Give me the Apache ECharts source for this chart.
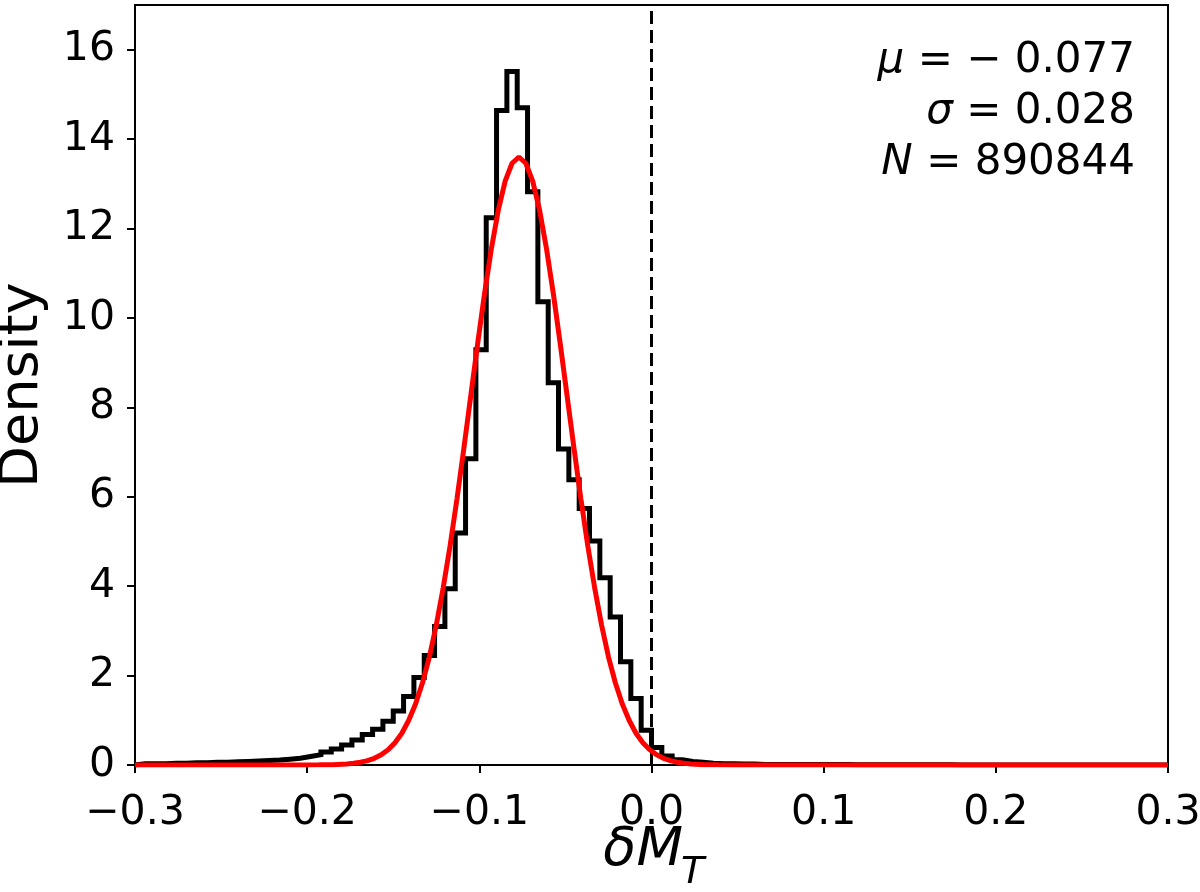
<!DOCTYPE html>
<html>
<head>
<meta charset="utf-8">
<script src="https://cdn.jsdelivr.net/npm/echarts@6/dist/echarts.min.js"></script>
<style>
html, body { margin: 0; padding: 0; background: #fff; }
#chart { width: 1200px; height: 892px; }
</style>
</head>
<body>
<div id="chart"></div>
<script>
// histogram: 100 bins of width 0.006 from -0.3 to 0.3 (density)
var binStart = -0.3;
var binWidth = 0.006;
var density = [
    0.03, 0.03, 0.03, 0.04, 0.04, 0.05, 0.05, 0.06, 0.06, 0.07,
    0.08, 0.09, 0.10, 0.11, 0.13, 0.15, 0.19, 0.23, 0.29, 0.36,
    0.45, 0.56, 0.68, 0.80, 0.98, 1.21, 1.53, 1.96, 2.45, 3.10,
    3.94, 5.19, 6.85, 9.29, 12.24, 14.64, 15.51, 14.70, 12.82, 10.36,
    8.55, 7.07, 6.38, 5.74, 5.01, 4.19, 3.31, 2.31, 1.49, 0.78,
    0.39, 0.20, 0.12, 0.08, 0.06, 0.04, 0.03, 0.03, 0.02, 0.02,
    0.01, 0.01, 0.01, 0.01, 0.01, 0.01, 0.01, 0.01, 0.01, 0.005,
    0.005, 0.005, 0.005, 0.005, 0.005, 0.005, 0.005, 0.005, 0.005, 0,
    0, 0, 0, 0, 0, 0, 0, 0, 0, 0,
    0, 0, 0, 0, 0, 0, 0, 0, 0, 0
];

// red fitted curve
var fitX = [-0.3, -0.201, -0.193, -0.185, -0.177, -0.173, -0.169, -0.165, -0.161, -0.157,
    -0.153, -0.149, -0.145, -0.141, -0.137, -0.133, -0.129, -0.125, -0.121, -0.117,
    -0.113, -0.109, -0.105, -0.101, -0.097, -0.093, -0.089, -0.085, -0.081, -0.077,
    -0.073, -0.069, -0.065, -0.061, -0.057, -0.053, -0.049, -0.045, -0.041, -0.037,
    -0.033, -0.029, -0.025, -0.021, -0.017, -0.013, -0.009, -0.005, -0.001, 0.003,
    0.007, 0.011, 0.015, 0.019, 0.023, 0.031, 0.039, 0.047, 0.3];
var fitY = [0, 0.001, 0.003, 0.008, 0.023, 0.038, 0.061, 0.097, 0.15, 0.23,
    0.34, 0.50, 0.71, 1.00, 1.37, 1.84, 2.42, 3.13, 3.96, 4.90,
    5.95, 7.08, 8.25, 9.42, 10.54, 11.55, 12.41, 13.06, 13.46, 13.60,
    13.46, 13.06, 12.41, 11.55, 10.54, 9.42, 8.25, 7.08, 5.95, 4.90,
    3.96, 3.13, 2.42, 1.84, 1.37, 1.00, 0.71, 0.50, 0.34, 0.23,
    0.15, 0.097, 0.061, 0.038, 0.023, 0.008, 0.003, 0.001, 0];

var xTicks = [-0.3, -0.2, -0.1, 0, 0.1, 0.2, 0.3];
var yTicks = [0, 2, 4, 6, 8, 10, 12, 14, 16];
var refLineX = 0;
var statText = [
    '{i|μ} = − 0.077',
    '{i|σ} = 0.028',
    '{i|N} = 890844'
];

var FONT = 'DejaVu Sans';

function buildSteps() {
    var pts = [[binStart, 0]];
    for (var i = 0; i < density.length; i++) {
        pts.push([+(binStart + i * binWidth).toFixed(4), density[i]]);
    }
    var end = +(binStart + density.length * binWidth).toFixed(4);
    pts.push([end, density[density.length - 1]]);
    pts.push([end, 0]);
    return pts;
}

function fmtX(v) {
    if (Math.abs(v) < 1e-9) v = 0;
    return (v < 0 ? '\u2212' : '') + Math.abs(v).toFixed(1);
}

var chart = echarts.init(document.getElementById('chart'));

var statGraphics = statText.map(function(t, k) {
    return {
        type: 'text',
        x: 1135,
        y: 61 + k * 51,
        style: {
            text: t,
            align: 'right',
            verticalAlign: 'middle',
            fontFamily: FONT,
            fontSize: 42,
            fill: '#000',
            rich: {
                i: { fontFamily: FONT, fontSize: 42, fontStyle: 'italic', fill: '#000' }
            }
        }
    };
});

var option = {
    animation: false,
    backgroundColor: '#fff',
    grid: {
        left: 135, right: 32, top: 5, bottom: 127,
        outerBoundsMode: 'none',
        containLabel: false,
        show: true, borderColor: '#000', borderWidth: 2
    },
    xAxis: {
        type: 'value',
        min: -0.3, max: 0.3, interval: 0.1,
        axisLine: { show: false, onZero: false },
        splitLine: { show: false },
        axisTick: { show: true, inside: false, length: 8, lineStyle: { color: '#000', width: 2 }, customValues: xTicks },
        axisLabel: { margin: 28, fontFamily: FONT, fontSize: 41, color: '#000', formatter: fmtX, customValues: xTicks }
    },
    yAxis: {
        type: 'value',
        min: 0, max: 17,
        name: 'Density',
        nameLocation: 'middle',
        nameGap: 85,
        nameTextStyle: { fontFamily: FONT, fontSize: 54, color: '#000' },
        axisLine: { show: false, onZero: false },
        splitLine: { show: false },
        axisTick: { show: true, inside: false, length: 8, lineStyle: { color: '#000', width: 2 }, customValues: yTicks },
        axisLabel: { margin: 20, fontFamily: FONT, fontSize: 41, color: '#000', customValues: yTicks }
    },
    graphic: statGraphics.concat([
        {
            type: 'text', x: 683, y: 851,
            style: { text: 'δM', align: 'right', verticalAlign: 'middle', fontFamily: FONT, fontSize: 54, fontStyle: 'italic', fill: '#000' }
        },
        {
            type: 'text', x: 681, y: 873,
            style: { text: 'T', align: 'left', verticalAlign: 'middle', fontFamily: FONT, fontSize: 38, fontStyle: 'italic', fill: '#000' }
        }
    ]),
    series: [
        {
            name: 'hist',
            type: 'line',
            step: 'end',
            symbol: 'none',
            data: buildSteps(),
            lineStyle: { color: '#000', width: 5, join: 'miter' },
            z: 2
        },
        {
            name: 'zero',
            type: 'line',
            symbol: 'none',
            data: [[refLineX, 0], [refLineX, 17]],
            lineStyle: { color: '#000', width: 3, type: [13, 6] },
            z: 3
        },
        {
            name: 'fit',
            type: 'line',
            symbol: 'none',
            data: fitX.map(function(x, i) { return [x, fitY[i]]; }),
            lineStyle: { color: '#ff0000', width: 5 },
            z: 4
        }
    ]
};
chart.setOption(option);
</script>
</body>
</html>
